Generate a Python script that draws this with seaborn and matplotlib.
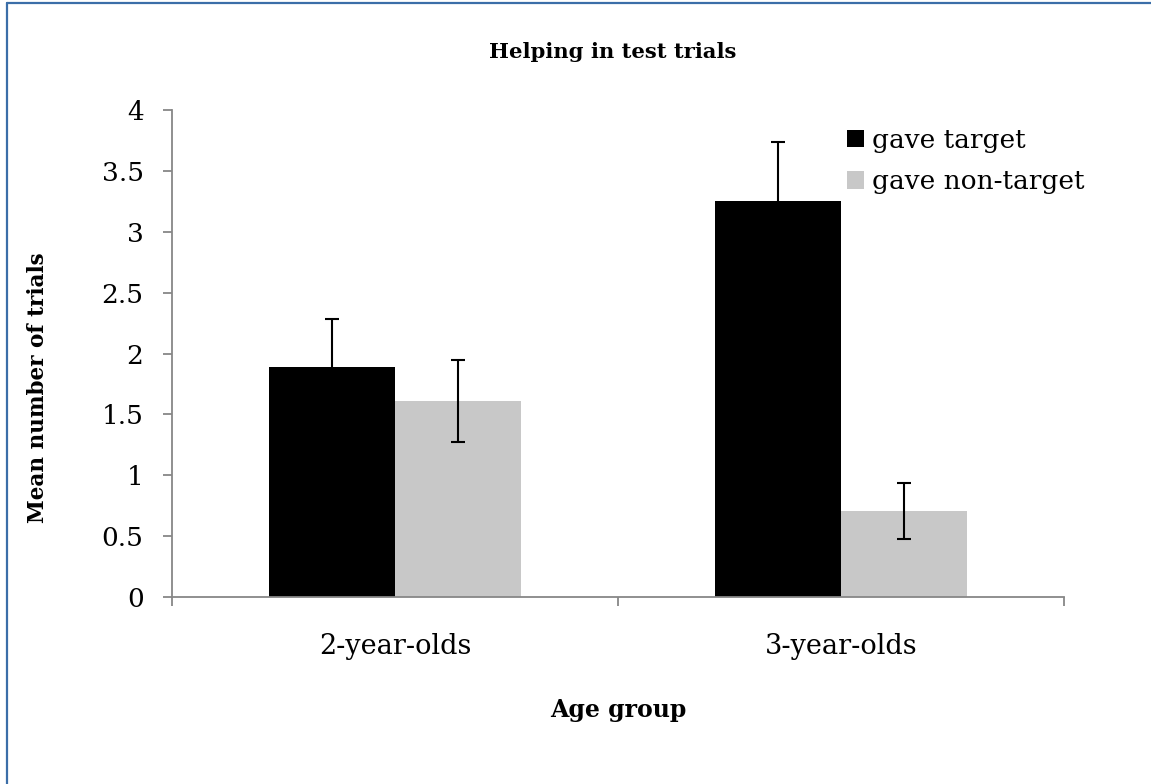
import pandas as pd
import seaborn as sns
import matplotlib.pyplot as plt
from matplotlib.lines import Line2D
from matplotlib.patches import Patch

# values
age_groups = ['2-year-olds', '3-year-olds']
responses = ['gave target', 'gave non-target']
gave_target = [1.89, 3.25]
gave_target_err = [0.39, 0.49]
gave_nontarget = [1.61, 0.71]
gave_nontarget_err = [0.34, 0.23]
y_ticks = [0, 0.5, 1, 1.5, 2, 2.5, 3, 3.5, 4]
y_tick_labels = ['0', '0.5', '1', '1.5', '2', '2.5', '3', '3.5', '4']

df = pd.DataFrame({
    'Age group': age_groups * 2,
    'Response': [responses[0]] * 2 + [responses[1]] * 2,
    'Mean': gave_target + gave_nontarget,
})
errs = [gave_target_err, gave_nontarget_err]
colors = ['#000000', '#c8c8c8']
axis_grey = '#878787'

sns.set_style('white')
plt.rcParams['font.family'] = ['DejaVu Serif']
plt.rcParams['text.color'] = 'black'
plt.rcParams['axes.labelcolor'] = 'black'

W, H = 1151, 784
fig = plt.figure(figsize=(W / 100, H / 100), dpi=100)
ax = fig.add_axes([172 / W, 1 - 597 / H, (1064 - 172) / W, (597 - 110) / H])

sns.barplot(data=df, x='Age group', y='Mean', hue='Response',
            palette=colors, saturation=1, width=0.565, gap=0,
            errorbar=None, legend=False, linewidth=0, ax=ax)

# error bars on top of each bar
for cont, err in zip(ax.containers, errs):
    xs = [p.get_x() + p.get_width() / 2 for p in cont.patches]
    ys = [p.get_height() for p in cont.patches]
    ax.errorbar(xs, ys, yerr=err, fmt='none', ecolor='black',
                elinewidth=1.5, capsize=5, capthick=1.5, zorder=5)

ax.set_ylim(0, 4)
ax.set_xlim(-0.5, 1.5)
ax.set_yticks(y_ticks)
ax.set_yticklabels(y_tick_labels)
ax.set_xticks([-0.5, 0.5, 1.5], minor=True)

for s in ['top', 'right']:
    ax.spines[s].set_visible(False)
for s in ['left', 'bottom']:
    ax.spines[s].set_color(axis_grey)
    ax.spines[s].set_linewidth(1.3)

ax.tick_params(axis='y', which='major', direction='out', length=6.5, width=1.3,
               color=axis_grey, labelcolor='black', labelsize=19, pad=14, left=True)
ax.tick_params(axis='x', which='major', length=0, labelsize=19.5,
               labelcolor='black', pad=26)
ax.tick_params(axis='x', which='minor', direction='out', length=6.5, width=1.3,
               color=axis_grey, bottom=True)

ax.set_xlabel('Age group', fontsize=17, fontweight='bold')
ax.xaxis.label.set_va('center')
ax.xaxis.set_label_coords(0.5, (597 - 710) / 487)
ax.set_ylabel('Mean number of trials', fontsize=15.5, fontweight='bold')
ax.yaxis.label.set_va('center')
ax.yaxis.set_label_coords((38 - 172) / 892, (597 - 388) / 487)

fig.text(613 / W, 1 - 52 / H, 'Helping in test trials', ha='center', va='center',
         fontsize=15.2, fontweight='bold')

handles = [Patch(facecolor=c, edgecolor='none') for c in colors]
ax.legend(handles, responses, loc='upper left',
          bbox_to_anchor=(847 / W, 1 - 128 / H), bbox_transform=fig.transFigure,
          frameon=False, fontsize=19, handlelength=0.64, handleheight=0.64,
          handletextpad=0.3, labelspacing=0.62, borderpad=0, borderaxespad=0)

# blue frame (only top and left visible in the reference)
frame_col = '#3b6ea8'
fig.add_artist(Line2D([7 / W, 7 / W], [0, 1 - 3 / H], transform=fig.transFigure,
                      color=frame_col, lw=1.6))
fig.add_artist(Line2D([7 / W, 1], [1 - 3 / H, 1 - 3 / H], transform=fig.transFigure,
                      color=frame_col, lw=1.6))

fig.savefig('out.png', dpi=100)
